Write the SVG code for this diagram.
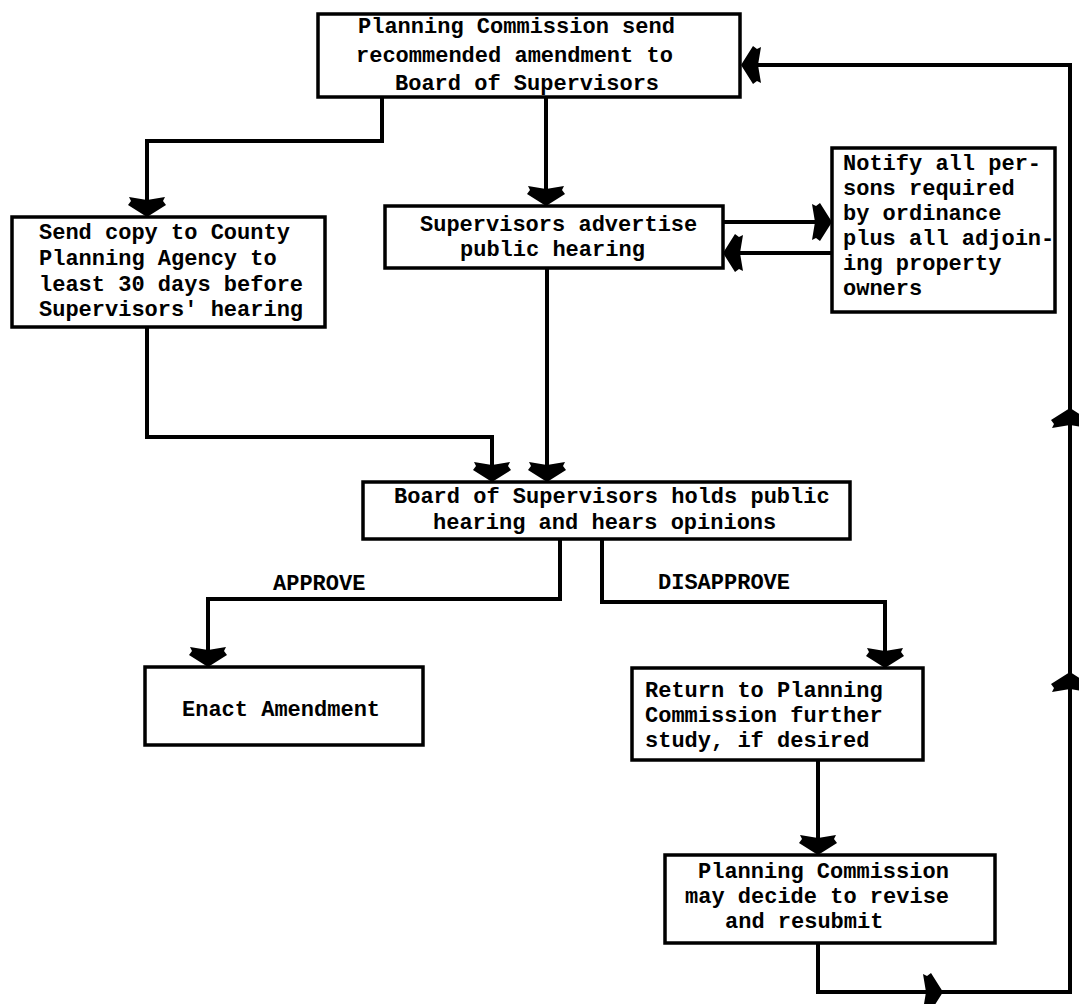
<svg xmlns="http://www.w3.org/2000/svg" width="1079" height="1004" viewBox="0 0 1079 1004">
<style>
.box{fill:#fff;stroke:#000;stroke-width:3.5}
.t{font-family:"Liberation Mono","Courier New",monospace;font-weight:bold;font-size:22px;fill:#000}
.c{fill:none;stroke:#000;stroke-width:4;stroke-linejoin:miter}
.a{marker-end:url(#ah)}
</style>
<defs>
<marker id="ah" markerUnits="userSpaceOnUse" viewBox="-18 -20 24 40" refX="0" refY="0" markerWidth="24" markerHeight="40" orient="auto" overflow="visible">
<path d="M4,0 L-8,19 L-12,16 L-16,18 L-13,0 L-16,-18 L-12,-16 L-8,-19 Z" fill="#000"/>
</marker>
</defs>
<rect width="1079" height="1004" fill="#fff"/>
<g id="connectors">
<path class="c a" d="M382,97 V141 H147 V213"/>
<path class="c a" d="M546,97 V202"/>
<path class="c a" d="M723,222 H828"/>
<path class="c a" d="M832,253 H727"/>
<path class="c a" d="M147,327 V437 H492 V478"/>
<path class="c a" d="M547,268 V478"/>
<path class="c a" d="M560,539 V599 H208 V663"/>
<path class="c a" d="M602,540 V602 H885 V664"/>
<path class="c a" d="M818,760 V851"/>
<path class="c a" d="M818,943 V992 H939"/>
<path class="c a" d="M935,992 H1070 V676"/>
<path class="c a" d="M1070,680 V412"/>
<path class="c a" d="M1070,416 V65 H745"/>
</g>
<g id="n-top">
<rect class="box" x="318" y="14" width="422" height="83"/>
<text class="t" x="358" y="33">Planning Commission send</text>
<text class="t" x="356" y="62">recommended amendment to</text>
<text class="t" x="395" y="90">Board of Supervisors</text>
</g>
<g id="n-copy">
<rect class="box" x="12" y="217" width="313" height="110"/>
<text class="t" x="39" y="239">Send copy to County</text>
<text class="t" x="39" y="265">Planning Agency to</text>
<text class="t" x="39" y="291">least 30 days before</text>
<text class="t" x="39" y="316">Supervisors' hearing</text>
</g>
<g id="n-advertise">
<rect class="box" x="385" y="206" width="338" height="62"/>
<text class="t" x="420" y="231">Supervisors advertise</text>
<text class="t" x="460" y="256">public hearing</text>
</g>
<g id="n-notify">
<rect class="box" x="832" y="148" width="223" height="164"/>
<text class="t" x="843" y="170">Notify all per-</text>
<text class="t" x="843" y="195">sons required</text>
<text class="t" x="843" y="220">by ordinance</text>
<text class="t" x="843" y="245">plus all adjoin-</text>
<text class="t" x="843" y="270">ing property</text>
<text class="t" x="843" y="295">owners</text>
</g>
<g id="n-board">
<rect class="box" x="363" y="482" width="487" height="57"/>
<text class="t" x="394" y="503">Board of Supervisors holds public</text>
<text class="t" x="433" y="529">hearing and hears opinions</text>
</g>
<g id="labels">
<text class="t" x="273" y="590">APPROVE</text>
<text class="t" x="658" y="589">DISAPPROVE</text>
</g>
<g id="n-enact">
<rect class="box" x="145" y="667" width="278" height="78"/>
<text class="t" x="182" y="716">Enact Amendment</text>
</g>
<g id="n-return">
<rect class="box" x="632" y="668" width="291" height="92"/>
<text class="t" x="645" y="697">Return to Planning</text>
<text class="t" x="645" y="722">Commission further</text>
<text class="t" x="645" y="747">study, if desired</text>
</g>
<g id="n-revise">
<rect class="box" x="665" y="855" width="330" height="88"/>
<text class="t" x="698" y="878">Planning Commission</text>
<text class="t" x="685" y="903">may decide to revise</text>
<text class="t" x="725" y="928">and resubmit</text>
</g>
</svg>
